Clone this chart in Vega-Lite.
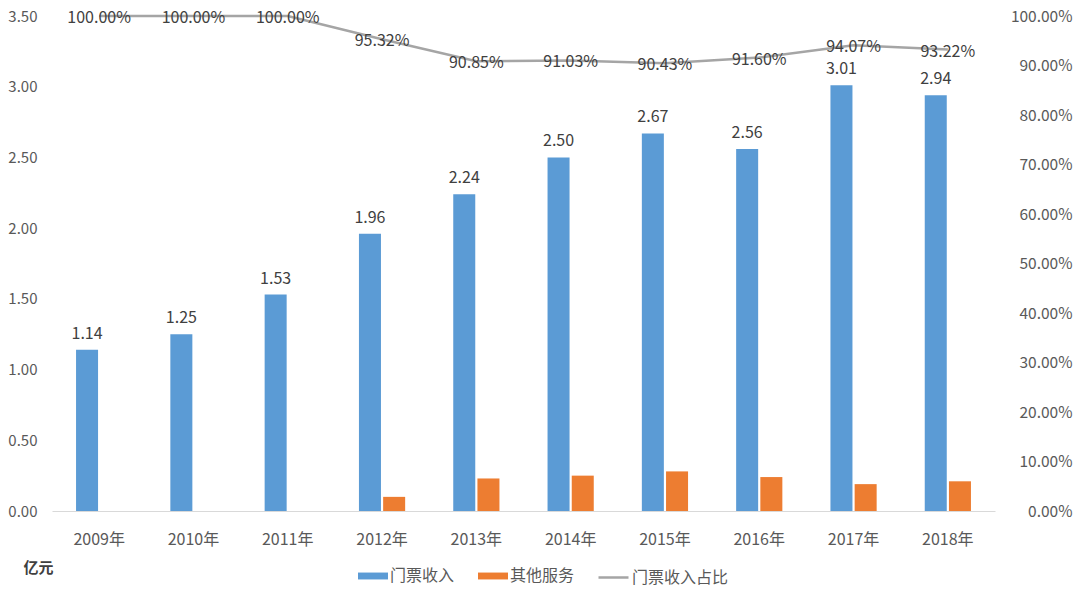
{
  "$schema": "https://vega.github.io/schema/vega-lite/v6.json",
  "width": 943,
  "height": 495,
  "autosize": {"type": "none"},
  "padding": {"left": 52, "top": 16, "right": 85, "bottom": 90},
  "background": "white",
  "config": {
    "view": {"stroke": null},
    "font": "Noto Sans CJK SC",
    "axis": {"labelColor": "#595959", "labelFont": "Noto Sans CJK SC", "grid": false, "ticks": false}
  },
  "datasets": {
    "bars": [
      {"year": "2009年", "series": "门票收入", "value": 1.14},
      {"year": "2010年", "series": "门票收入", "value": 1.25},
      {"year": "2011年", "series": "门票收入", "value": 1.53},
      {"year": "2012年", "series": "门票收入", "value": 1.96},
      {"year": "2013年", "series": "门票收入", "value": 2.24},
      {"year": "2014年", "series": "门票收入", "value": 2.50},
      {"year": "2015年", "series": "门票收入", "value": 2.67},
      {"year": "2016年", "series": "门票收入", "value": 2.56},
      {"year": "2017年", "series": "门票收入", "value": 3.01},
      {"year": "2018年", "series": "门票收入", "value": 2.94},
      {"year": "2009年", "series": "其他服务", "value": 0},
      {"year": "2010年", "series": "其他服务", "value": 0},
      {"year": "2011年", "series": "其他服务", "value": 0},
      {"year": "2012年", "series": "其他服务", "value": 0.10},
      {"year": "2013年", "series": "其他服务", "value": 0.23},
      {"year": "2014年", "series": "其他服务", "value": 0.25},
      {"year": "2015年", "series": "其他服务", "value": 0.28},
      {"year": "2016年", "series": "其他服务", "value": 0.24},
      {"year": "2017年", "series": "其他服务", "value": 0.19},
      {"year": "2018年", "series": "其他服务", "value": 0.21}
    ],
    "share": [
      {"year": "2009年", "share": 1.0},
      {"year": "2010年", "share": 1.0},
      {"year": "2011年", "share": 1.0},
      {"year": "2012年", "share": 0.9532},
      {"year": "2013年", "share": 0.9085},
      {"year": "2014年", "share": 0.9103},
      {"year": "2015年", "share": 0.9043},
      {"year": "2016年", "share": 0.9160},
      {"year": "2017年", "share": 0.9407},
      {"year": "2018年", "share": 0.9322}
    ]
  },
  "encoding": {
    "x": {
      "field": "year",
      "type": "nominal",
      "scale": {"paddingInner": 0.51, "paddingOuter": 0.255},
      "axis": {
        "title": null,
        "labelAngle": 0,
        "labelFontSize": 16,
        "labelPadding": 20,
        "domainColor": "#D9D9D9",
        "domainWidth": 1
      }
    }
  },
  "layer": [
    {
      "data": {"name": "bars"},
      "layer": [
        {
          "mark": {"type": "bar"},
          "encoding": {
            "xOffset": {"field": "series", "type": "nominal", "scale": {"domain": ["门票收入", "其他服务"], "paddingInner": 0.09}},
            "y": {
              "field": "value",
              "type": "quantitative",
              "scale": {"domain": [0, 3.5]},
              "axis": {
                "title": "亿元",
                "titleAngle": 0,
                "titleX": -29,
                "titleY": 551,
                "titleAlign": "left",
                "titleBaseline": "middle",
                "titleFontSize": 15,
                "titleFontWeight": "bold",
                "titleColor": "#404040",
                "values": [0, 0.5, 1, 1.5, 2, 2.5, 3, 3.5],
                "format": ".2f",
                "labelFontSize": 15,
                "labelPadding": 15,
                "domain": false
              }
            },
            "fill": {
              "field": "series",
              "type": "nominal",
              "scale": {"domain": ["门票收入", "其他服务"], "range": ["#5B9BD5", "#ED7D31"]},
              "legend": {
                "orient": "none",
                "direction": "horizontal",
                "legendX": 306,
                "legendY": 545,
                "title": null,
                "symbolType": "M-1,-0.23H1V0.23H-1Z",
                "symbolSize": 900,
                "symbolStrokeWidth": 0,
                "labelFontSize": 16,
                "labelColor": "#595959",
                "labelOffset": 2,
                "columnPadding": 23,
                "padding": 0
              }
            }
          }
        },
        {
          "transform": [{"filter": "datum.series === '门票收入'"}],
          "mark": {"type": "text", "baseline": "bottom", "dy": -8, "fontSize": 16, "color": "#404040"},
          "encoding": {
            "xOffset": {"field": "series", "type": "nominal", "scale": {"domain": ["门票收入", "其他服务"], "paddingInner": 0.09}},
            "y": {"field": "value", "type": "quantitative"},
            "text": {"field": "value", "type": "quantitative", "format": ".2f"}
          }
        }
      ]
    },
    {
      "data": {"name": "share"},
      "layer": [
        {
          "mark": {"type": "line", "strokeWidth": 2.5},
          "encoding": {
            "y": {
              "field": "share",
              "type": "quantitative",
              "scale": {"domain": [0, 1]},
              "axis": {
                "orient": "right",
                "title": null,
                "values": [0, 0.1, 0.2, 0.3, 0.4, 0.5, 0.6, 0.7, 0.8, 0.9, 1],
                "format": ".2%",
                "labelFontSize": 15.5,
                "labelAlign": "right",
                "labelPadding": 77,
                "domain": false
              }
            },
            "stroke": {
              "datum": "门票收入占比",
              "type": "nominal",
              "scale": {"range": ["#A5A5A5"]},
              "legend": {
                "orient": "none",
                "direction": "horizontal",
                "legendX": 545,
                "legendY": 545,
                "title": null,
                "symbolType": "stroke",
                "symbolSize": 900,
                "symbolStrokeWidth": 2.5,
                "labelFontSize": 16,
                "labelColor": "#595959",
                "labelOffset": 2,
                "padding": 0
              }
            }
          }
        },
        {
          "mark": {"type": "text", "fontSize": 16, "color": "#404040", "baseline": "middle", "dy": 2},
          "encoding": {
            "y": {"field": "share", "type": "quantitative"},
            "text": {"field": "share", "type": "quantitative", "format": ".2%"}
          }
        }
      ]
    }
  ],
  "resolve": {"scale": {"y": "independent"}}
}
